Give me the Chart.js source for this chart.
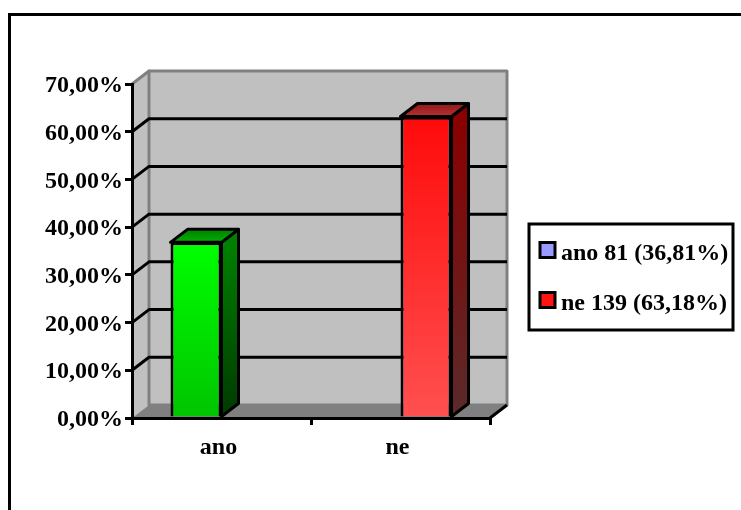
<!DOCTYPE html>
<html>
<head>
<meta charset="utf-8">
<style>
  html, body { margin: 0; padding: 0; background: #fff; overflow: hidden; }
  canvas { display: block; }
</style>
<script src="https://cdn.jsdelivr.net/npm/chart.js@4/dist/chart.umd.min.js"></script>
</head>
<body>
<canvas id="survey" width="741" height="510"></canvas>
<script>
// Survey result: share of "ano" and "ne" answers, drawn as pseudo-3D columns.
const categories = ['ano', 'ne'];
const anoValues = [36.81, null];
const neValues = [null, 63.18];
const seriesLabels = ['ano 81 (36,81%)', 'ne 139 (63,18%)'];
const legendColours = ['#9999FF', '#FF1414'];
const axisMax = 70;
const axisStep = 10;

const SERIF = "'Liberation Serif', 'Times New Roman', serif";
const DEPTH_X = 17;
const DEPTH_Y = 13;

// Vertical colour ramps for each column: front, side and top faces.
const faceRamps = [
  { front: ['#00FF00', '#00C400'], side: ['#008000', '#003A00'], top: ['#008000', '#00B000'] },
  { front: ['#FF0A0A', '#FF5050'], side: ['#8A0000', '#5A2A2A'], top: ['#901818', '#B83030'] }
];

function ramp(ctx, y0, y1, colours) {
  const g = ctx.createLinearGradient(0, y0, 0, y1);
  g.addColorStop(0, colours[0]);
  g.addColorStop(1, colours[1]);
  return g;
}

function polygon(ctx, pts, fill, stroke, width) {
  ctx.beginPath();
  pts.forEach((p, i) => (i ? ctx.lineTo(p[0], p[1]) : ctx.moveTo(p[0], p[1])));
  ctx.closePath();
  if (fill) { ctx.fillStyle = fill; ctx.fill(); }
  if (stroke) {
    ctx.strokeStyle = stroke;
    ctx.lineWidth = width;
    ctx.lineJoin = 'round';
    ctx.stroke();
  }
}

// Page frame, box walls, floor and the gridlines running round the box.
const boxWalls = {
  id: 'boxWalls',
  beforeDraw(chart) {
    const { ctx, scales: { x, y } } = chart;
    const l = x.left, r = x.right, b = y.bottom, t = y.top;
    ctx.save();
    ctx.fillStyle = '#fff';
    ctx.fillRect(0, 0, chart.width, chart.height);
    ctx.strokeStyle = '#000';
    ctx.lineWidth = 3;
    ctx.strokeRect(9.5, 14.5, chart.width + 40, chart.height + 40);

    polygon(ctx, [[l, t], [l + DEPTH_X, t - DEPTH_Y], [l + DEPTH_X, b - DEPTH_Y], [l, b]], '#C0C0C0');
    polygon(ctx, [[l + DEPTH_X, t - DEPTH_Y], [r + DEPTH_X, t - DEPTH_Y], [r + DEPTH_X, b - DEPTH_Y], [l + DEPTH_X, b - DEPTH_Y]], '#C0C0C0', '#808080', 3);
    polygon(ctx, [[l, t], [l + DEPTH_X, t - DEPTH_Y]], null, '#808080', 3);
    polygon(ctx, [[l, b], [l + DEPTH_X, b - DEPTH_Y], [r + DEPTH_X, b - DEPTH_Y], [r, b]], '#808080');

    ctx.strokeStyle = '#000';
    ctx.lineWidth = 3;
    y.ticks.forEach(tick => {
      if (tick.value <= 0 || tick.value >= axisMax) return;
      const py = y.getPixelForValue(tick.value);
      ctx.beginPath();
      ctx.moveTo(l, py);
      ctx.lineTo(l + DEPTH_X, py - DEPTH_Y);
      ctx.lineTo(r + DEPTH_X, py - DEPTH_Y);
      ctx.stroke();
    });
    ctx.beginPath();
    ctx.moveTo(r, b);
    ctx.lineTo(r + DEPTH_X, b - DEPTH_Y);
    ctx.stroke();
    ctx.restore();
  },
  // Side and top faces of the columns, taken from the bar elements themselves.
  beforeDatasetsDraw(chart) {
    const { ctx } = chart;
    ctx.save();
    chart.data.datasets.forEach((ds, di) => {
      chart.getDatasetMeta(di).data.forEach((bar, i) => {
        if (ds.data[i] === null) return;
        const { x, y, width, base } = bar.getProps(['x', 'y', 'width', 'base'], true);
        const left = x - width / 2, right = x + width / 2;
        const colours = faceRamps[di];
        polygon(ctx, [[right, y], [right + DEPTH_X, y - DEPTH_Y], [right + DEPTH_X, base - DEPTH_Y], [right, base]],
          ramp(ctx, y, base, colours.side), '#000', 3);
        polygon(ctx, [[left, y], [left + DEPTH_X, y - DEPTH_Y], [right + DEPTH_X, y - DEPTH_Y], [right, y]],
          ramp(ctx, y - DEPTH_Y, y, colours.top), '#000', 3);
      });
    });
    ctx.restore();
  }
};

// Places the key inside its own ruled box to the right of the plot.
const KEY = { left: 529, top: 224, width: 204, height: 106, swatchX: 540, swatch: 15, textX: 561, textDrop: 2, swatchLift: 2 };
const keyBox = {
  id: 'keyBox',
  afterLayout(chart) {
    const key = chart.legend;
    const labels = key.options.labels;
    const spread = 30;
    key.left = KEY.textX - labels.boxWidth - labels.font.size / 2 - labels.padding;
    key.right = KEY.left + KEY.width;
    key.top = KEY.top - spread + KEY.textDrop;
    key.bottom = KEY.top + KEY.height + spread + KEY.textDrop;
  },
  afterDraw(chart) {
    const { ctx } = chart;
    const labels = chart.legend.options.labels;
    const rowGap = labels.font.size + labels.padding;
    const middle = KEY.top + KEY.height / 2 - KEY.swatchLift;
    ctx.save();
    ctx.strokeStyle = '#000';
    ctx.lineWidth = 3;
    ctx.strokeRect(KEY.left, KEY.top, KEY.width, KEY.height);
    legendColours.forEach((colour, i) => {
      const cy = middle + (i - 0.5) * rowGap;
      ctx.fillStyle = colour;
      ctx.fillRect(KEY.swatchX, cy - KEY.swatch / 2, KEY.swatch, KEY.swatch);
      ctx.strokeRect(KEY.swatchX, cy - KEY.swatch / 2, KEY.swatch, KEY.swatch);
    });
    ctx.restore();
  }
};

function frontFace(di) {
  return context => {
    const { chart, dataIndex } = context;
    const y = chart.scales.y;
    const value = chart.data.datasets[di].data[dataIndex];
    if (!y || value === null || value === undefined) return '#000';
    return ramp(chart.ctx, y.getPixelForValue(value), y.getPixelForValue(0), faceRamps[di].front);
  };
}

const seriesValues = [anoValues, neValues];

new Chart(document.getElementById('survey'), {
  type: 'bar',
  data: {
    labels: categories,
    datasets: seriesValues.map((values, di) => ({
      label: seriesLabels[di],
      data: values,
      backgroundColor: frontFace(di),
      borderColor: '#000',
      borderWidth: 3,
      categoryPercentage: 0.57,
      barPercentage: 1
    }))
  },
  plugins: [boxWalls, keyBox],
  options: {
    responsive: false,
    animation: false,
    layout: { padding: { top: 84, left: 0, right: 251, bottom: 40 } },
    plugins: {
      tooltip: { enabled: false },
      title: { display: false },
      legend: {
        position: 'chartArea',
        align: 'center',
        labels: {
          boxWidth: 9,
          boxHeight: 9,
          padding: 26,
          color: '#000',
          font: { family: SERIF, size: 24, weight: 'bold' },
          generateLabels: chart => chart.data.datasets.map((ds, i) => ({
            text: ds.label,
            fillStyle: 'rgba(0,0,0,0)',
            strokeStyle: 'rgba(0,0,0,0)',
            lineWidth: 0,
            datasetIndex: i,
            hidden: false
          }))
        }
      }
    },
    scales: {
      x: {
        afterFit: scale => { scale.height = 52; },
        border: { display: true, color: '#000', width: 3 },
        grid: { display: true, drawOnChartArea: false, drawTicks: true, tickLength: 7, color: '#000', lineWidth: 3 },
        ticks: {
          color: '#000',
          padding: 8,
          labelOffset: -3,
          font: { family: SERIF, size: 24, weight: 'bold' },
          maxRotation: 0
        }
      },
      y: {
        min: 0,
        max: axisMax,
        afterFit: scale => { scale.width = 132; },
        border: { display: true, color: '#000', width: 3 },
        grid: { display: true, drawOnChartArea: false, drawTicks: true, tickLength: 7, color: '#000', lineWidth: 3 },
        ticks: {
          stepSize: axisStep,
          color: '#000',
          padding: 2,
          labelOffset: 2,
          font: { family: SERIF, size: 24, weight: 'bold' },
          callback: v => v.toFixed(2).replace('.', ',') + '%'
        }
      }
    }
  }
});
</script>
</body>
</html>
